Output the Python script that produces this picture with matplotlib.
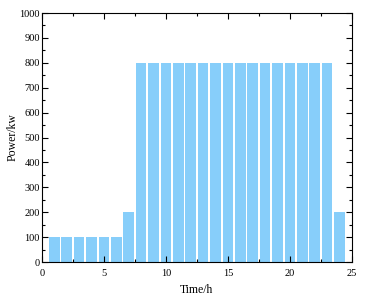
import numpy as np
import matplotlib.pyplot as plt
from matplotlib.ticker import MultipleLocator

# Hourly power values
hours = list(range(1, 25))
power = [100, 100, 100, 100, 100, 100, 200] + [800] * 16 + [200]

plt.rcParams['font.family'] = ['Liberation Serif', 'DejaVu Serif']
plt.rcParams['font.size'] = 7.5

fig = plt.figure(figsize=(3.65, 3.03), dpi=100)
ax = fig.add_axes([0.115, 0.135, 0.849, 0.822])

ax.bar(hours, power, width=0.85, color='#87CEFA')

ax.set_xlim(0, 25)
ax.set_ylim(0, 1000)
ax.xaxis.set_major_locator(MultipleLocator(5))
ax.xaxis.set_minor_locator(MultipleLocator(2.5))
ax.yaxis.set_major_locator(MultipleLocator(100))
ax.yaxis.set_minor_locator(MultipleLocator(50))
ax.tick_params(which='both', direction='in', top=True, right=True, width=0.8)
ax.tick_params(which='major', length=4)
ax.tick_params(which='minor', length=2)
ax.tick_params(axis='x', pad=5)
ax.tick_params(axis='y', pad=1.5)
for s in ax.spines.values():
    s.set_linewidth(0.8)

ax.set_xlabel('Time/h', fontsize=8.5, labelpad=4)
ax.set_ylabel('Power/kw', fontsize=8.5, labelpad=0.5)

fig.savefig('out.png', dpi=100)
